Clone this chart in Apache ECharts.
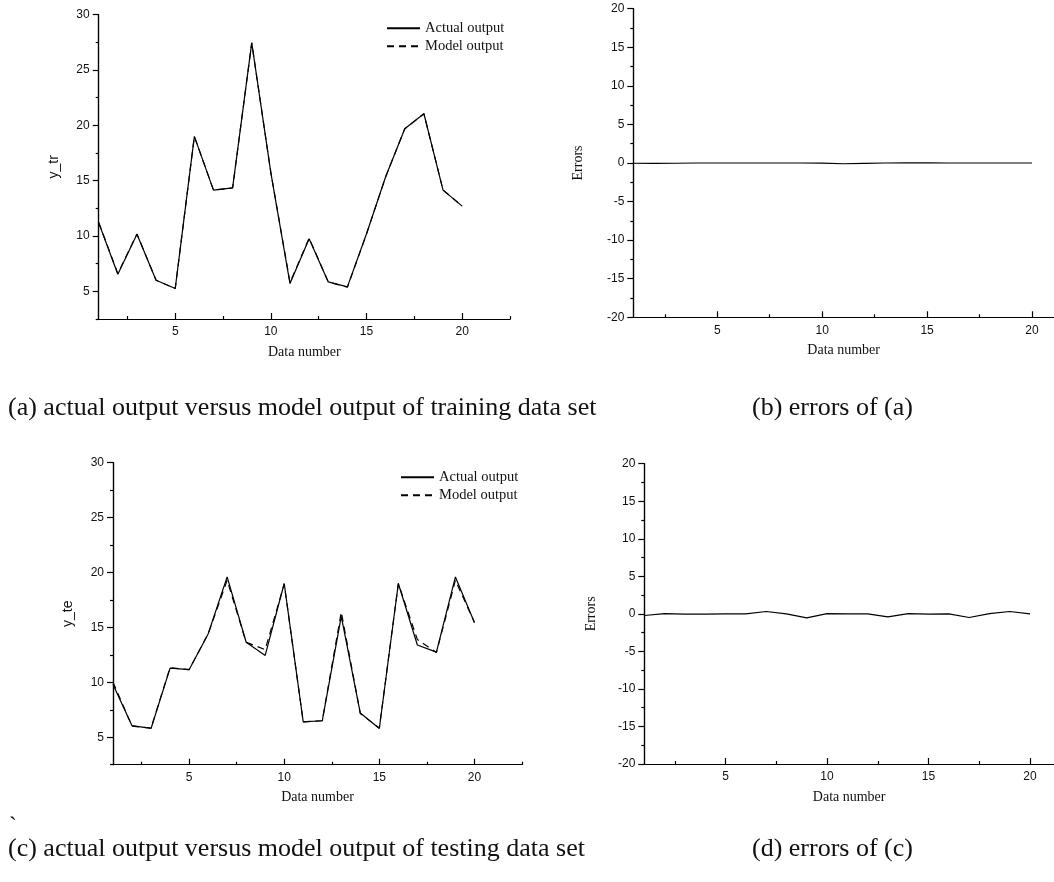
<!DOCTYPE html>
<html>
<head>
<meta charset="utf-8">
<script src="https://cdn.jsdelivr.net/npm/echarts@6/dist/echarts.min.js"></script>
<style>
html,body{margin:0;padding:0;background:#fff;}
#chart{width:1054px;height:882px;}
</style>
</head>
<body>
<div id="chart"></div>
<script>
// ---- data ----
const dataNumbers = [1,2,3,4,5,6,7,8,9,10,11,12,13,14,15,16,17,18,19,20];

const actualTrain = [11.2, 6.55, 10.15, 6.0, 5.25, 19.0, 14.15, 14.35, 27.45, 15.7, 5.7, 9.75, 5.85, 5.4, 10.2, 15.35, 19.7, 21.05, 14.15, 12.7];
const modelTrain  = [11.23, 6.61, 10.18, 6.0, 5.25, 19.0, 14.15, 14.35, 27.45, 15.72, 5.8, 9.8, 5.85, 5.37, 10.18, 15.35, 19.7, 21.05, 14.15, 12.7];
const errorsTrain = [-0.03, -0.06, -0.03, 0.0, 0.0, 0.0, 0.0, 0.0, 0.0, -0.02, -0.1, -0.05, 0.0, 0.03, 0.02, 0.0, 0.0, 0.0, 0.0, 0.0];

const actualTest = [9.8, 6.05, 5.8, 11.3, 11.15, 14.4, 19.6, 13.65, 12.45, 19.0, 6.4, 6.5, 16.0, 7.2, 5.8, 19.0, 13.4, 12.75, 19.6, 15.45];
const modelTest  = [10.02, 6.01, 5.84, 11.34, 11.15, 14.4, 19.29, 13.65, 12.98, 18.96, 6.4, 6.5, 16.4, 7.16, 5.84, 19.0, 13.89, 12.71, 19.29, 15.45];
const errorsTest = [-0.22, 0.04, -0.04, -0.04, 0.0, 0.0, 0.31, 0.0, -0.53, 0.04, 0.0, 0.0, -0.4, 0.04, -0.04, 0.0, -0.49, 0.04, 0.31, 0.0];

const xMajorTicks = [5, 10, 15, 20];
const xMinorTicks = [2.5, 7.5, 12.5, 17.5, 22.5];
const yOutMajorTicks = [5, 10, 15, 20, 25, 30];
const yOutMinorTicks = [2.5, 7.5, 12.5, 17.5, 22.5, 27.5];
const yErrMajorTicks = [-20, -15, -10, -5, 0, 5, 10, 15, 20];
const yErrMinorTicks = [-17.5, -12.5, -7.5, -2.5, 2.5, 7.5, 12.5, 17.5];

const seriesNames = ['Actual output', 'Model output'];
const captions = [
  '(a) actual output versus model output of training data set',
  '(b) errors of (a)',
  '(c) actual output versus model output of testing data set',
  '(d) errors of (c)'
];
const axisNames = { x: 'Data number', yTrain: 'y_tr', yTest: 'y_te', yErr: 'Errors' };

// ---- build ----
function pairs(xs, ys) { return xs.map((x, i) => [x, ys[i]]); }

const lineC = { color: '#000', width: 1.2 };
const sans = 'Liberation Sans, Arial, sans-serif';
const serif = 'Liberation Serif, Times New Roman, serif';

const panels = [
  { grid: { left: 98.7, top: 14.7, width: 411.3, height: 304.3 }, xmax: 22.5, ymin: 2.5, ymax: 30, yMaj: yOutMajorTicks, yMin: yOutMinorTicks, yName: axisNames.yTrain, yNameFont: sans, yNameGap: 38 },
  { grid: { left: 633.3, top: 8.7, width: 420.7, height: 308.6 }, xmax: 21.05, ymin: -20, ymax: 20, yMaj: yErrMajorTicks, yMin: yErrMinorTicks, yName: axisNames.yErr, yNameFont: serif, yNameGap: 48 },
  { grid: { left: 113, top: 462.7, width: 409, height: 302 }, xmax: 22.5, ymin: 2.5, ymax: 30, yMaj: yOutMajorTicks, yMin: yOutMinorTicks, yName: axisNames.yTest, yNameFont: sans, yNameGap: 38 },
  { grid: { left: 644.3, top: 463.7, width: 409.7, height: 300.3 }, xmax: 21.18, ymin: -20, ymax: 20, yMaj: yErrMajorTicks, yMin: yErrMinorTicks, yName: axisNames.yErr, yNameFont: serif, yNameGap: 46 }
];

const grids = [], xAxes = [], yAxes = [];
panels.forEach((p, i) => {
  grids.push(Object.assign({ containLabel: false }, p.grid));
  xAxes.push({
    gridIndex: i, type: 'value', min: 1, max: p.xmax, position: 'bottom',
    axisLine: { show: true, onZero: false, lineStyle: lineC },
    axisTick: { show: true, inside: true, length: 3, customValues: xMinorTicks.filter(v => v <= p.xmax), lineStyle: lineC },
    axisLabel: { show: false }, splitLine: { show: false }
  });
  xAxes.push({
    gridIndex: i, type: 'value', min: 1, max: p.xmax, position: 'bottom',
    axisLine: { show: true, onZero: false, lineStyle: lineC },
    axisTick: { show: true, inside: true, length: 6, customValues: xMajorTicks, lineStyle: lineC },
    axisLabel: { show: true, customValues: xMajorTicks, margin: 7, color: '#111', fontSize: 12, fontFamily: sans },
    splitLine: { show: false },
    name: axisNames.x, nameLocation: 'middle', nameGap: 26,
    nameTextStyle: { fontFamily: serif, fontSize: 14, color: '#111' }
  });
  yAxes.push({
    gridIndex: i, type: 'value', min: p.ymin, max: p.ymax, position: 'left',
    axisLine: { show: true, onZero: false, lineStyle: lineC },
    axisTick: { show: true, inside: false, length: 3, customValues: p.yMin, lineStyle: lineC },
    axisLabel: { show: false }, splitLine: { show: false }
  });
  yAxes.push({
    gridIndex: i, type: 'value', min: p.ymin, max: p.ymax, position: 'left',
    axisLine: { show: true, onZero: false, lineStyle: lineC },
    axisTick: { show: true, inside: false, length: 6, customValues: p.yMaj, lineStyle: lineC },
    axisLabel: { show: true, customValues: p.yMaj, margin: 9, color: '#111', fontSize: 12, fontFamily: sans },
    splitLine: { show: false },
    name: p.yName, nameLocation: 'middle', nameGap: p.yNameGap, nameRotate: 90,
    nameTextStyle: { fontFamily: p.yNameFont, fontSize: 14, color: '#111' }
  });
});

function lineSeries(name, panel, xs, ys, dashed) {
  return {
    name: name, type: 'line', xAxisIndex: panel * 2, yAxisIndex: panel * 2,
    data: pairs(xs, ys), symbol: 'none', showSymbol: false, animation: false,
    lineStyle: { color: '#000', width: 1.2, type: dashed ? [7, 5] : 'solid' },
    itemStyle: { color: '#000' }, z: dashed ? 3 : 2
  };
}

const series = [
  lineSeries(seriesNames[0], 0, dataNumbers, actualTrain, false),
  lineSeries(seriesNames[1], 0, dataNumbers, modelTrain, true),
  lineSeries('errA', 1, dataNumbers, errorsTrain, false),
  lineSeries(seriesNames[0], 2, dataNumbers, actualTest, false),
  lineSeries(seriesNames[1], 2, dataNumbers, modelTest, true),
  lineSeries('errC', 3, dataNumbers, errorsTest, false)
];

function legendAt(left, top) {
  return {
    data: seriesNames, orient: 'vertical', left: left, top: top,
    itemWidth: 33, itemHeight: 12, itemGap: 3, selectedMode: false,
    itemStyle: { opacity: 0 },
    textStyle: { fontFamily: serif, fontSize: 14.5, color: '#111' }
  };
}

function caption(text, x, y) {
  return { type: 'text', left: x, top: y, style: { text: text, font: '26px ' + serif, fill: '#111' } };
}

const option = {
  backgroundColor: '#fff',
  animation: false,
  grid: grids, xAxis: xAxes, yAxis: yAxes, series: series,
  legend: [legendAt(381, 15.7), legendAt(395, 464.7)],
  graphic: [
    caption(captions[0], 8, 395),
    caption(captions[1], 752, 395),
    caption(captions[2], 8, 836),
    caption(captions[3], 752, 836),
    { type: 'text', left: 9, top: 815, style: { text: '`', font: '24px ' + serif, fill: '#111' } }
  ]
};

const chart = echarts.init(document.getElementById('chart'), null, { renderer: 'canvas' });
chart.setOption(option);
</script>
</body>
</html>
